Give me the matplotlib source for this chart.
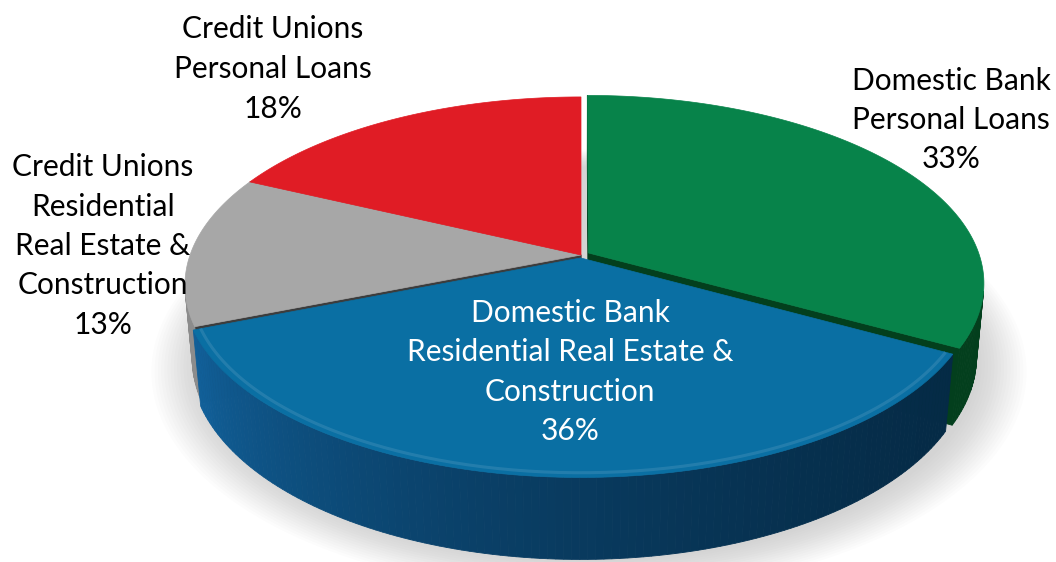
import numpy as np
import matplotlib
matplotlib.use("Agg")
import matplotlib.pyplot as plt
from matplotlib.patches import Polygon
from matplotlib.colors import to_rgb

# ---- data -------------------------------------------------------------
segments = [
    "Domestic Bank\nPersonal Loans",
    "Domestic Bank\nResidential Real Estate &\nConstruction",
    "Credit Unions\nResidential\nReal Estate &\nConstruction",
    "Credit Unions\nPersonal Loans",
]
shares = [33, 36, 13, 18]

# ---- styling ----------------------------------------------------------
top_colors = ["#07834a", "#0a6fa3", "#a7a7a7", "#e01c25"]
side_light = ["#05582b", "#115f98", "#8c8c8c", "#b5141b"]
side_dark = ["#033f1d", "#052a45", "#606060", "#8a0f14"]
face_colors = ["#033f1d", "#073a5c", "#3c3c3c", "#7a0d12"]
rim_shade = [0.0, 0.14, 0.0, 0.0]
explode = [0.022, 0.016, 0.0, 0.0]

label_pos = [(951, 120), (570, 372), (103, 246), (273, 69)]
label_color = ["black", "white", "black", "black"]

plt.rcParams["font.family"] = ["Lato", "DejaVu Sans"]

# ---- simple perspective camera looking down on the disc ---------------
CX, CY = 581.0, 255.0
FOCAL = 2158.0
DIST = 5.52
TILT = np.arcsin(0.469)
DEPTH = 0.215
CAM = np.array([0.0, -DIST * np.cos(TILT), DIST * np.sin(TILT)])


def project(x, d, z):
    x = np.asarray(x, float)
    d = np.asarray(d, float)
    z = np.asarray(z, float) * np.ones_like(x)
    zc = DIST + d * np.cos(TILT) - z * np.sin(TILT)
    sx = CX + FOCAL * x / zc
    sy = CY - FOCAL * (d * np.sin(TILT) + z * np.cos(TILT)) / zc
    return np.column_stack([sx, sy])


def mix(c1, c2, t):
    a, b = np.array(to_rgb(c1)), np.array(to_rgb(c2))
    return tuple(a + (b - a) * t)


fig = plt.figure(figsize=(10.56, 5.62), dpi=100)
ax = fig.add_axes([0, 0, 1, 1])
ax.set_xlim(0, 1056)
ax.set_ylim(562, 0)
ax.axis("off")

total = float(sum(shares))
bounds = np.concatenate([[0.0], np.cumsum(shares) / total * 2 * np.pi])

# soft drop shadow under the disc
ring = np.linspace(0, 2 * np.pi, 240)
for k in range(16):
    r = 1.0 + 0.008 * k
    pts = project(r * np.sin(ring), r * np.cos(ring) - 0.01, -DEPTH)
    pts = pts + np.array([8.0, 3.0])
    ax.add_patch(Polygon(pts, closed=True, facecolor="#a0a0a0",
                         edgecolor="none", alpha=0.03, zorder=1))

# collect side pieces (outer wall strips and cut faces) for depth sorting
pieces = []
for i in range(len(shares)):
    a0, a1 = bounds[i], bounds[i + 1]
    mid = 0.5 * (a0 + a1)
    ox, od = explode[i] * np.sin(mid), explode[i] * np.cos(mid)

    # outer curved wall, split into thin strips for shading
    n = max(4, int(np.degrees(a1 - a0)))
    ang = np.linspace(a0, a1, n + 1)
    for j in range(n):
        p0, p1 = ang[j], ang[j + 1]
        pm = 0.5 * (p0 + p1)
        nx, nd = np.sin(pm), np.cos(pm)
        px, pd = nx + ox, nd + od
        view = np.array([CAM[0] - px, CAM[1] - pd, CAM[2]])
        if nx * view[0] + nd * view[1] <= 0:
            continue
        xs = np.array([np.sin(p0), np.sin(p1), np.sin(p1), np.sin(p0)]) + ox
        ds = np.array([np.cos(p0), np.cos(p1), np.cos(p1), np.cos(p0)]) + od
        zs = np.array([0, 0, -DEPTH, -DEPTH])
        t = np.clip((np.degrees(pm) - 110) / 135.0, 0, 1) ** 1.8
        col = mix(side_dark[i], side_light[i], t)
        pieces.append((np.mean(ds), project(xs, ds, zs), col))

    # flat cut faces at both ends of the slice
    for a, sgn in ((a0, -1), (a1, 1)):
        nrm = a + sgn * np.pi / 2
        nx, nd = np.sin(nrm), np.cos(nrm)
        cxp, cdp = 0.5 * np.sin(a) + ox, 0.5 * np.cos(a) + od
        view = np.array([CAM[0] - cxp, CAM[1] - cdp])
        if nx * view[0] + nd * view[1] <= 1e-6:
            continue
        xs = np.array([0, np.sin(a), np.sin(a), 0]) + ox
        ds = np.array([0, np.cos(a), np.cos(a), 0]) + od
        zs = np.array([0, 0, -DEPTH, -DEPTH])
        pieces.append((np.mean(ds), project(xs, ds, zs), face_colors[i]))

for _, pts, col in sorted(pieces, key=lambda p: -p[0]):
    ax.add_patch(Polygon(pts, closed=True, facecolor=col, edgecolor=col,
                         linewidth=0.6, zorder=2))

# top faces
for i in range(len(shares)):
    a0, a1 = bounds[i], bounds[i + 1]
    mid = 0.5 * (a0 + a1)
    ox, od = explode[i] * np.sin(mid), explode[i] * np.cos(mid)
    ang = np.linspace(a0, a1, 200)
    xs = np.concatenate([[0], np.sin(ang)]) + ox
    ds = np.concatenate([[0], np.cos(ang)]) + od
    ax.add_patch(Polygon(project(xs, ds, 0), closed=True,
                         facecolor=top_colors[i], edgecolor=top_colors[i],
                         linewidth=0.5, zorder=3))
    # light rim along the front edge of the top face
    if rim_shade[i] > 0:
        front = ang[(np.cos(ang) < -0.25)]
        rim = project(0.982 * np.sin(front) + ox, 0.982 * np.cos(front) + od, 0)
        ax.plot(rim[:, 0], rim[:, 1],
                color=mix(top_colors[i], "#ffffff", rim_shade[i]),
                linewidth=2.2, alpha=0.75, zorder=4, solid_capstyle="butt")

# labels
for i in range(len(shares)):
    x, y = label_pos[i]
    ax.text(x, y, f"{segments[i]}\n{shares[i]}%", ha="center", va="center",
            fontsize=21.5, color=label_color[i], linespacing=1.5, zorder=5)

fig.savefig("out.png", dpi=100, facecolor="white")
